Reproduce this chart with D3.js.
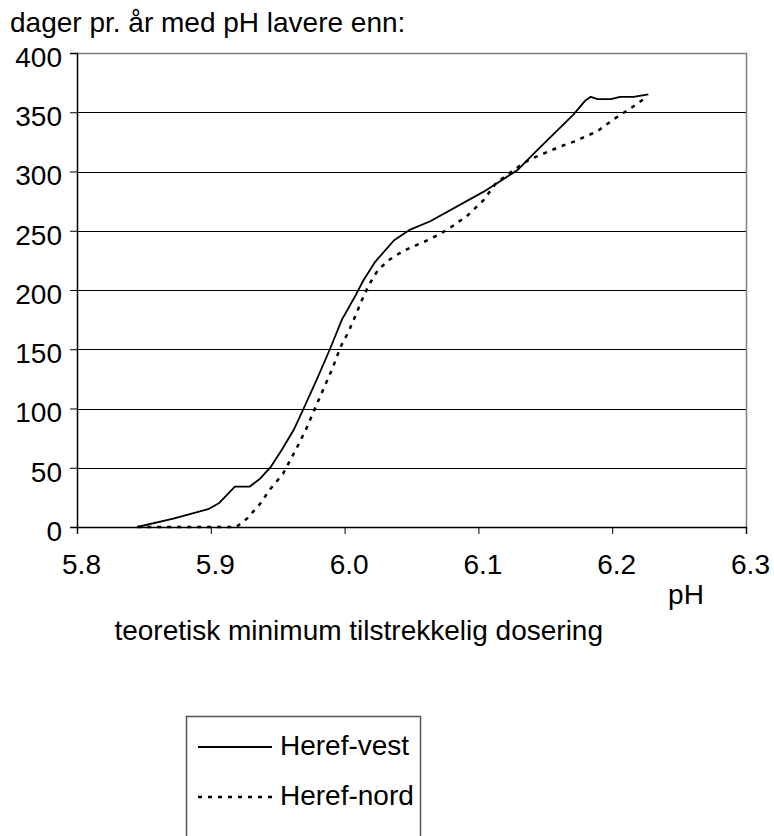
<!DOCTYPE html>
<html>
<head>
<meta charset="utf-8">
<script src="https://cdn.jsdelivr.net/npm/d3@7"></script>
<style>
  html, body { margin: 0; padding: 0; background: #fff; }
  svg { display: block; }
  text { font-family: "Liberation Sans", Arial, sans-serif; fill: #000; }
</style>
</head>
<body>
<svg id="chart" width="774" height="836"></svg>
<script>
// ---- data ----
const titleText = "dager pr. år med pH lavere enn:";
const xAxisLabel = "pH";
const subLabel = "teoretisk minimum tilstrekkelig dosering";
const seriesNames = ["Heref-vest", "Heref-nord"];
const xTicks = [5.8, 5.9, 6.0, 6.1, 6.2, 6.3];
const yTicks = [0, 50, 100, 150, 200, 250, 300, 350, 400];

const vestPH = [5.845, 5.872, 5.898, 5.906, 5.918, 5.929, 5.937, 5.945, 5.953, 5.962, 5.969, 5.979, 5.989, 5.998, 6.007, 6.014, 6.023, 6.037, 6.049, 6.064, 6.104, 6.129, 6.144, 6.171, 6.180, 6.184, 6.189, 6.199, 6.206, 6.216, 6.227];
const vestDays = [0, 7, 15, 20, 34, 34, 41, 51, 65, 82, 99, 124, 150, 175, 193, 208, 224, 242, 251, 258, 283, 301, 318, 348, 360, 363, 361, 361, 363, 363, 365];

const nordPH = [5.845, 5.919, 5.927, 5.938, 5.943, 5.954, 5.963, 5.971, 5.984, 5.991, 5.997, 6.003, 6.008, 6.012, 6.018, 6.025, 6.034, 6.044, 6.054, 6.064, 6.077, 6.092, 6.104, 6.113, 6.126, 6.138, 6.161, 6.171, 6.181, 6.189, 6.201, 6.216, 6.226];
const nordDays = [0, 0, 7, 21, 30, 45, 64, 82, 116, 134, 152, 165, 178, 189, 204, 217, 226, 233, 238, 243, 251, 263, 276, 290, 301, 310, 321, 325, 330, 334, 344, 355, 363];

// ---- layout ----
(function () {
const svg = d3.select("#chart");
const L = 77, R = 746, T = 53, B = 527;
const x = d3.scaleLinear().domain([5.8, 6.3]).range([L, R]);
const y = d3.scaleLinear().domain([0, 400]).range([B, T]);
const FS = 28;
const FF = '"Liberation Sans", Arial, sans-serif';

// title
svg.append("text").attr("x", 10).attr("y", 32).attr("font-size", FS).text(titleText);

// gridlines
svg.append("g").selectAll("line").data(yTicks.filter(d => d > 0 && d < 400)).join("line")
  .attr("x1", L).attr("x2", R)
  .attr("y1", d => Math.round(y(d)) + 0.5).attr("y2", d => Math.round(y(d)) + 0.5)
  .attr("stroke", "#000").attr("stroke-width", 1);

// plot border (top/right)
svg.append("path")
  .attr("d", `M${L},${Math.round(y(400)) + 0.5}H${R + 0.5}V${B}`)
  .attr("fill", "none").attr("stroke", "#808080").attr("stroke-width", 1.5);

// y axis
const yAxis = d3.axisLeft(y).tickValues(yTicks).tickSize(7).tickPadding(8).tickFormat(d3.format("d"));
const gy = svg.append("g").attr("transform", `translate(${L},0)`).call(yAxis);
gy.select(".domain").attr("stroke", "#000").attr("stroke-width", 1.5);
gy.selectAll(".tick line").attr("stroke", "#000");
gy.selectAll(".tick text").attr("font-size", FS).attr("font-family", FF)
  .attr("fill", "#000").attr("dy", "0.48em");

// x axis
const xAxis = d3.axisBottom(x).tickValues(xTicks).tickSize(7).tickPadding(20).tickFormat(d3.format(".1f"));
const gx = svg.append("g").attr("transform", `translate(0,${B})`).call(xAxis);
gx.select(".domain").attr("stroke", "#000").attr("stroke-width", 1.5);
gx.selectAll(".tick line").attr("stroke", "#000");
gx.selectAll(".tick text").attr("font-size", FS).attr("font-family", FF)
  .attr("fill", "#000").attr("dx", 4);

// axis labels
svg.append("text").attr("x", 686).attr("y", 604).attr("text-anchor", "middle").attr("font-size", FS).text(xAxisLabel);
svg.append("text").attr("x", 603).attr("y", 640).attr("text-anchor", "end").attr("font-size", FS).text(subLabel);

// lines
const line = d3.line().x(d => x(d[0])).y(d => y(d[1]));
const vest = vestPH.map((p, i) => [p, vestDays[i]]);
const nord = nordPH.map((p, i) => [p, nordDays[i]]);

svg.append("path").datum(vest).attr("d", line)
  .attr("fill", "none").attr("stroke", "#000").attr("stroke-width", 1.8).attr("stroke-linejoin", "round");
svg.append("path").datum(nord).attr("d", line)
  .attr("fill", "none").attr("stroke", "#000").attr("stroke-width", 2.5).attr("stroke-dasharray", "4,6");

// legend
const lg = svg.append("g");
lg.append("rect").attr("x", 186.5).attr("y", 716.5).attr("width", 234).attr("height", 150)
  .attr("fill", "#fff").attr("stroke", "#555").attr("stroke-width", 1.5);
const rows = [
  { name: seriesNames[0], dash: null, w: 1.8 },
  { name: seriesNames[1], dash: "4,6", w: 2.5 }
];
rows.forEach((r, i) => {
  const yy = 747 + i * 50;
  lg.append("line").attr("x1", 198).attr("x2", 272).attr("y1", yy).attr("y2", yy)
    .attr("stroke", "#000").attr("stroke-width", r.w).attr("stroke-dasharray", r.dash);
  lg.append("text").attr("x", 280).attr("y", yy + 8).attr("font-size", FS).text(r.name);
});
})();
</script>
</body>
</html>
